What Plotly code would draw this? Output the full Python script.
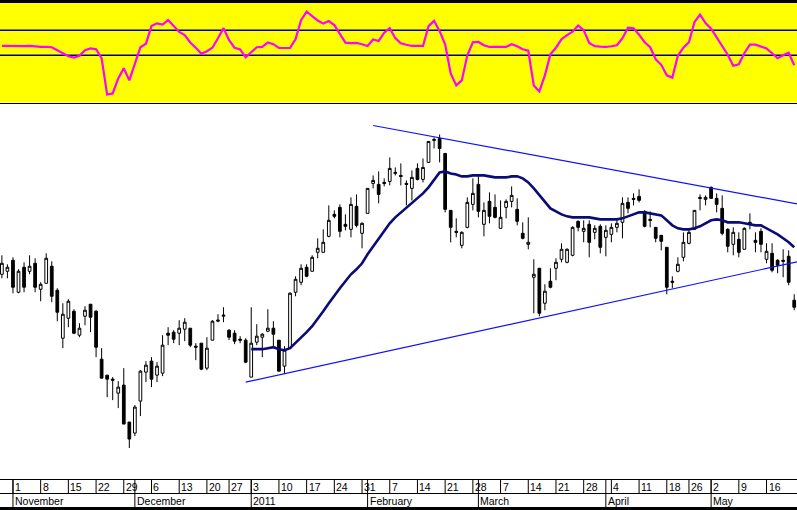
# stockchart.py

import pandas as pd
import plotly.graph_objects as go

# Trading calendar (exchange closed on these weekdays)
HOLIDAYS = ['2010-12-24', '2010-12-31', '2011-04-22', '2011-04-25']
FIRST_DAY = '2010-10-28'
LAST_DAY = '2011-05-23'
FIRST_WEEK_TICK = '2010-11-01'
LAST_WEEK_TICK = '2011-05-16'

month_labels = ['November', 'December', '2011', 'February', 'March', 'April', 'May']

# Daily prices (index units, one value per trading day)
opens = [
    226, 229, 240, 208, 233, 229, 237, 211, 217, 234, 210, 162,
    182, 189, 165, 184, 196, 189, 141, 125, 121, 107, 115, 78,
    67, 99, 128, 139, 125, 127, 167, 168, 167, 171, 172, 154,
    157, 132, 160, 179, 184, 170, 167, 161, 160, 123, 158, 163,
    169, 172, 160, 134, 152, 208, 218, 233, 229, 248, 248, 264,
    286, 293, 276, 271, 294, 267, 287, 317, 316, 318, 319, 327,
    325, 317, 312, 332, 321, 338, 360, 362, 347, 290, 269, 255,
    273, 296, 316, 276, 299, 293, 272, 293, 299, 291, 267, 256,
    223, 232, 197, 219, 232, 241, 238, 245, 279, 269, 276, 268,
    274, 263, 266, 273, 278, 298, 302, 304, 289, 281, 273, 265,
    253, 219, 229, 243, 257, 271, 303, 301, 313, 302, 292, 271,
    256, 261, 251, 278, 260, 269, 241, 247, 240, 240, 244, 200,
]
highs = [
    245, 236, 243, 231, 238, 245, 242, 218, 247, 239, 212, 197,
    201, 191, 177, 194, 196, 190, 152, 125, 123, 119, 132, 78,
    95, 130, 139, 143, 138, 165, 173, 170, 180, 182, 172, 157,
    157, 163, 180, 186, 193, 171, 170, 164, 162, 193, 176, 167,
    191, 179, 160, 154, 208, 224, 236, 236, 245, 262, 271, 295,
    290, 296, 286, 303, 306, 278, 312, 325, 329, 322, 343, 333,
    337, 320, 330, 337, 342, 359, 363, 366, 347, 290, 282, 269,
    303, 322, 325, 298, 308, 306, 300, 301, 314, 302, 278, 283,
    241, 232, 216, 232, 242, 257, 252, 274, 280, 280, 280, 275,
    276, 275, 277, 282, 303, 303, 307, 311, 290, 289, 273, 265,
    253, 224, 243, 268, 271, 290, 306, 305, 314, 307, 305, 272,
    273, 268, 273, 287, 268, 272, 257, 257, 241, 251, 250, 206,
]
lows = [
    222, 222, 207, 207, 208, 226, 208, 199, 217, 198, 179, 152,
    173, 166, 163, 175, 168, 143, 122, 103, 100, 92, 76, 52,
    64, 84, 118, 113, 118, 124, 155, 157, 155, 159, 153, 140,
    130, 130, 160, 178, 178, 160, 156, 157, 137, 123, 155, 143,
    168, 153, 129, 126, 152, 204, 215, 223, 229, 242, 248, 263,
    282, 263, 270, 263, 273, 252, 287, 312, 297, 314, 315, 325,
    315, 295, 300, 320, 318, 338, 352, 338, 288, 258, 263, 252,
    272, 290, 283, 264, 277, 282, 272, 282, 293, 275, 261, 251,
    187, 184, 190, 212, 220, 238, 237, 244, 269, 258, 243, 261,
    247, 244, 258, 268, 262, 287, 295, 298, 273, 273, 258, 250,
    206, 212, 228, 239, 256, 271, 290, 295, 302, 288, 265, 248,
    245, 243, 251, 271, 248, 248, 237, 228, 227, 223, 215, 190,
]
closes = [
    237, 233, 213, 229, 213, 234, 213, 216, 242, 204, 188, 186,
    199, 167, 172, 190, 183, 153, 122, 121, 120, 113, 76, 61,
    93, 129, 135, 121, 134, 155, 165, 161, 172, 178, 155, 153,
    131, 152, 179, 180, 185, 163, 159, 160, 138, 157, 164, 166,
    172, 166, 129, 150, 207, 221, 232, 224, 243, 252, 258, 280,
    284, 269, 274, 296, 275, 277, 312, 320, 306, 317, 332, 328,
    324, 316, 323, 321, 333, 359, 361, 352, 291, 273, 268, 268,
    298, 307, 289, 290, 284, 283, 283, 299, 305, 279, 262, 258,
    226, 187, 209, 213, 238, 251, 251, 273, 273, 272, 258, 272,
    253, 270, 273, 277, 297, 292, 301, 300, 274, 280, 262, 259,
    213, 218, 236, 258, 268, 290, 302, 303, 302, 296, 267, 254,
    268, 248, 272, 276, 258, 256, 249, 230, 235, 239, 218, 193,
]

# Moving average, first value on the 46th trading day
ma_start = 45
ma_values = [
    151, 151, 151, 152, 153, 151, 150, 152, 157, 162, 168, 174,
    181, 189, 197, 205, 212, 219, 226, 231, 237, 246, 254, 262,
    269, 277, 283, 288, 293, 297, 302, 307, 313, 321, 328, 329,
    327, 326, 324, 324, 325, 325, 325, 324, 323, 323, 323, 324,
    324, 322, 318, 312, 305, 298, 292, 289, 286, 284, 283, 283,
    283, 283, 282, 281, 281, 281, 281, 282, 284, 286, 288, 288,
    287, 286, 285, 280, 275, 272, 271, 271, 272, 274, 277, 280,
    281, 280, 278, 278, 278, 277, 276, 275, 275, 272, 269, 266,
    262, 258, 253,
]

# Oscillator shown in the yellow panel
osc_values = [
    37, 36, 36, 34, 36, 37, 34, 33, 33, 32, 20, 8,
    -4, -9, -2, 20, 27, 24, -12, -156, -152, -92, -52, -100,
    -36, 32, 46, 116, 127, 122, 140, 116, 93, 80, 51, 30,
    6, 16, 30, 68, 108, 60, 30, 23, -8, 12, 32, 33,
    51, 44, 29, 29, 29, 64, 140, 174, 154, 138, 126, 136,
    120, 84, 50, 48, 49, 44, 37, 63, 57, 90, 108, 68,
    48, 42, 37, 37, 37, 116, 137, 96, 44, -72, -120, -100,
    0, 52, 53, 40, 33, 33, 33, 33, 44, 36, 24, 18,
    -120, -144, -80, 4, 30, 64, 80, 94, 118, 100, 49, 36,
    34, 33, 36, 40, 68, 110, 107, 82, 52, 32, -16, -38,
    -80, -89, -2, 30, 52, 132, 162, 128, 106, 70, 36, 2,
    -42, -36, 8, 42, 42, 36, 27, 8, -12, 0, 10, -40,
]
osc_levels = [0, 100]

# Trendlines (trading-day index, price)
upper_trend_x = [67, 143.5]
upper_trend_y = [375, 296.5]
lower_trend_x = [44, 143.5]
lower_trend_y = [118, 238.5]

W, H = 797, 510
FONT = 'Arial, Liberation Sans, sans-serif'


def trading_days():
    """Business days between the first and last day, without holidays."""
    days = pd.bdate_range(FIRST_DAY, LAST_DAY)
    return [d for d in days if d.strftime('%Y-%m-%d') not in HOLIDAYS]


def py(pixel_y):
    """Convert a pixel row (from the top) into paper coordinates."""
    return 1 - pixel_y / H


def build_figure():
    dates = trading_days()
    idx = list(range(len(dates)))

    fig = go.Figure()

    # Candles
    fig.add_trace(go.Candlestick(
        x=idx, open=opens, high=highs, low=lows, close=closes,
        increasing=dict(fillcolor='white', line=dict(color='black', width=1)),
        decreasing=dict(fillcolor='black', line=dict(color='black', width=1)),
        whiskerwidth=0, showlegend=False, xaxis='x', yaxis='y'))

    # Moving average
    fig.add_trace(go.Scatter(
        x=list(range(ma_start, ma_start + len(ma_values))), y=ma_values,
        mode='lines', line=dict(color='#0b0b78', width=2.6),
        showlegend=False, xaxis='x', yaxis='y'))

    # Trendlines
    for tx, ty in [(upper_trend_x, upper_trend_y), (lower_trend_x, lower_trend_y)]:
        fig.add_trace(go.Scatter(x=tx, y=ty, mode='lines',
                                 line=dict(color='#1010ff', width=1.2),
                                 showlegend=False, xaxis='x', yaxis='y'))

    # Oscillator
    fig.add_trace(go.Scatter(
        x=idx, y=osc_values, mode='lines',
        line=dict(color='#ff00ff', width=2.2),
        showlegend=False, xaxis='x', yaxis='y2'))

    shapes = []
    # yellow oscillator panel
    shapes.append(dict(type='rect', xref='paper', yref='paper', x0=0, x1=1,
                       y0=py(102.5), y1=py(3), fillcolor='#ffff00',
                       line=dict(width=0), layer='below'))
    for lvl in osc_levels:
        shapes.append(dict(type='line', xref='paper', yref='y2', x0=0, x1=1,
                           y0=lvl, y1=lvl, line=dict(color='#000080', width=1.5),
                           layer='below'))
    # black frame bits
    shapes.append(dict(type='rect', xref='paper', yref='paper', x0=0, x1=1,
                       y0=py(3), y1=1, fillcolor='black', line=dict(width=0)))
    shapes.append(dict(type='line', xref='paper', yref='paper', x0=0, x1=1,
                       y0=py(103.5), y1=py(103.5), line=dict(color='black', width=1.2)))
    shapes.append(dict(type='rect', xref='paper', yref='paper', x0=0, x1=1,
                       y0=0, y1=py(507), fillcolor='black', line=dict(width=0)))
    # date axis rows
    for row in (479.5, 493.5):
        shapes.append(dict(type='line', xref='paper', yref='paper', x0=0, x1=1,
                           y0=py(row), y1=py(row), line=dict(color='black', width=1)))

    annotations = []
    label_font = dict(family=FONT, size=10.5, color='black')

    # week ticks: first trading day of each week
    lo, hi = pd.Timestamp(FIRST_WEEK_TICK), pd.Timestamp(LAST_WEEK_TICK)
    for i in idx:
        new_week = i == 0 or dates[i].isocalendar()[1] != dates[i - 1].isocalendar()[1]
        if new_week and lo <= dates[i] <= hi:
            shapes.append(dict(type='line', xref='x', yref='paper', x0=i, x1=i,
                               y0=py(493.5), y1=py(479.5),
                               line=dict(color='black', width=1)))
            annotations.append(dict(x=i, y=py(486.5), xref='x', yref='paper',
                                    text=str(dates[i].day), showarrow=False,
                                    xanchor='left', yanchor='middle', xshift=1,
                                    borderpad=0, font=label_font))

    # month ticks: first trading day of each month
    month_starts = [i for i in idx if i > 0 and dates[i].month != dates[i - 1].month]
    for i, label in zip(month_starts, month_labels):
        shapes.append(dict(type='line', xref='x', yref='paper', x0=i, x1=i,
                           y0=py(507), y1=py(479.5),
                           line=dict(color='black', width=1)))
        annotations.append(dict(x=i, y=py(500.5), xref='x', yref='paper',
                                text=label, showarrow=False,
                                xanchor='left', yanchor='middle', xshift=1,
                                borderpad=0, font=label_font))

    hidden = dict(showgrid=False, zeroline=False, showticklabels=False,
                  ticks='', showline=False, fixedrange=True)
    fig.update_layout(
        width=W, height=H,
        margin=dict(l=0, r=0, t=0, b=0),
        paper_bgcolor='white', plot_bgcolor='rgba(0,0,0,0)',
        xaxis=dict(range=[-0.34, 143.5], rangeslider=dict(visible=False), **hidden),
        yaxis=dict(domain=[py(478), py(104.5)], range=[22, 396], **hidden),
        yaxis2=dict(domain=[py(102.5), py(3)], range=[-188, 208], anchor='x', **hidden),
        shapes=shapes, annotations=annotations,
        showlegend=False, hovermode=False,
    )
    return fig


def main():
    fig = build_figure()
    # page body has an 8px default margin; drop it so the chart fills the window
    fig.write_html("out.html", config={'displayModeBar': False},
                   post_script="document.body.style.margin = '0';")


if __name__ == '__main__':
    main()
